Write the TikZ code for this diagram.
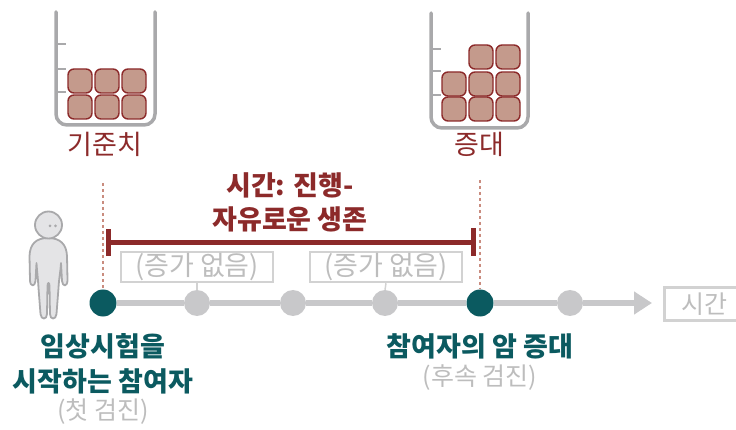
\documentclass[tikz,border=0pt]{standalone}
\usepackage{fontspec}
\setmainfont{Noto Sans CJK KR}
\usetikzlibrary{arrows.meta}
\definecolor{darkred}{HTML}{8C2A2A}
\definecolor{cellfill}{HTML}{C49A8C}
\definecolor{teal}{HTML}{0B5A60}
\definecolor{lightgray}{HTML}{C8C8CA}
\definecolor{boxgray}{HTML}{D2D2D2}
\definecolor{textgray}{HTML}{BDBDBD}
\definecolor{beakergray}{HTML}{A9A9AB}
\definecolor{dotline}{HTML}{C98C7F}
\definecolor{skin}{HTML}{E4E4E6}
\tikzset{
  beaker/.style={draw=beakergray, line width=3.5pt, line cap=round, rounded corners=11pt},
  tick/.style={draw=beakergray, line width=2.5pt},
  cell/.style={draw=darkred, fill=cellfill, line width=1.4pt, rounded corners=6pt},
  beakerlabel/.style={text=darkred, font=\fontsize{27}{29}\selectfont},
  guide/.style={draw=dotline, line width=1.6pt, dash pattern=on 3pt off 3pt},
  span/.style={draw=darkred, line width=5pt},
  track/.style={draw=lightgray, line width=5pt},
  event/.style={circle, fill=teal, minimum size=27pt, inner sep=0pt},
  visit/.style={circle, fill=lightgray, minimum size=26pt, inner sep=0pt},
  nochange/.style={draw=boxgray, line width=2.5pt, text=textgray, minimum width=152pt,
    minimum height=30pt, inner sep=0pt, font=\fontsize{27}{29}\selectfont},
  headline/.style={text=darkred, font=\bfseries\fontsize{27}{29}\selectfont},
  eventlabel/.style={text=teal, font=\bfseries\fontsize{27}{29}\selectfont, align=center},
  note/.style={text=textgray, font=\fontsize{25}{27}\selectfont},
  person/.style={draw=beakergray, fill=skin, line width=1.8pt, line join=round},
}
\newcommand{\cellat}[2]{\path[cell] (#1,#2) rectangle ++(24,24);}
\begin{document}
\begin{tikzpicture}[x=1pt,y=-1pt]
\useasboundingbox (0,0) rectangle (736,430);

% --- baseline beaker ---
\draw[beaker] (56,12) -- (56,125) -- (155,125) -- (155,12);
\foreach \yy in {44,69,92} \draw[tick] (56,\yy) -- (66,\yy);
\foreach \xx in {68,95,122} {\cellat{\xx}{69} \cellat{\xx}{95}}
\node[beakerlabel] (base) at (105,144) {기준치};

% --- grown beaker ---
\draw[beaker] (431,13) -- (431,128) -- (528,128) -- (528,13);
\foreach \yy in {49,71,95} \draw[tick] (431,\yy) -- (441,\yy);
\foreach \xx in {442,469,496} {\cellat{\xx}{72} \cellat{\xx}{97}}
\foreach \xx in {469,496} {\cellat{\xx}{45}}
\node[beakerlabel] (grow) at (479,144) {증대};

% --- timeline ---
\node[event] (t0) at (103,303) {};
\node[visit] (t1) at (197,303) {};
\node[visit] (t2) at (293,303) {};
\node[visit] (t3) at (385,303) {};
\node[event] (t4) at (480,303) {};
\node[visit] (t5) at (570,303) {};
\coordinate (tend) at (652,303);
\draw[track] (t0) -- (t1);
\draw[track] (t1) -- (t2);
\draw[track] (t2) -- (t3);
\draw[track] (t3) -- (t4);
\draw[track] (t4) -- (t5);
\draw[track, -{Triangle[length=18pt,width=22pt]}] (t5) -- (tend);
\node[draw=boxgray, line width=2.5pt, text=textgray, font=\fontsize{25}{27}\selectfont,
  minimum width=80pt, minimum height=33pt, inner sep=0pt, anchor=west] (timebox) at (663,304) {시간};

% --- no-change boxes ---
\node[nochange] (nc1) at (197,267) {(증가 없음)};
\node[nochange] (nc2) at (386,267) {(증가 없음)};
\draw[draw=boxgray, line width=1.5pt] (nc1.south) -- (t1.north);
\draw[draw=boxgray, line width=1.5pt] (nc2.south) -- (t3.north);

% --- guides ---
\coordinate (g0) at (103,183);
\coordinate (g4) at (480,180);
\draw[guide] (g0) -- (t0.north);
\draw[guide] (g4) -- (t4.north);

% --- progression-free span ---
\coordinate (s0) at (108,243);
\coordinate (s1) at (473,243);
\draw[span] (s0) -- (s1);
\draw[span] ([yshift=-13pt]s0) -- ([yshift=14pt]s0);
\draw[span] ([yshift=-13pt]s1) -- ([yshift=15pt]s1);
\node[headline] (h1) at (290,185) {시간: 진행-};
\node[headline] (h2) at (290,219) {자유로운 생존};

% --- event labels ---
\node[eventlabel] (l0a) at (103,346) {임상시험을};
\node[eventlabel] (l0b) at (103,381) {시작하는 참여자};
\node[note] (l0c) at (103,412) {(첫 검진)};
\node[eventlabel] (l4a) at (480,346) {참여자의 암 증대};
\node[note] (l4b) at (480,378) {(후속 검진)};

% --- participant figure ---
\draw[person] (48,238) .. controls (36,238) and (30,244) .. (29.5,256)
  -- (30,280) .. controls (30,287) and (35,287) .. (35.5,281)
  -- (36.5,263) .. controls (37,272) and (38,278) .. (38.5,288)
  -- (40.5,314) .. controls (41,320) and (47,320) .. (47,314)
  -- (47.5,286) .. controls (47.5,282) and (49.5,282) .. (49.5,286)
  -- (50,314) .. controls (50,320) and (56,320) .. (56.5,314)
  -- (58.5,288) .. controls (59,278) and (60.5,272) .. (61,263)
  -- (62,281) .. controls (62.5,287) and (67.5,287) .. (67.5,280)
  -- (67,256) .. controls (66.5,244) and (60,238) .. (48,238) -- cycle;
\draw[person] (48.5,225) circle (13.5pt);
\fill[beakergray] (50,226) circle (1.5pt) (55.5,226) circle (1.5pt);
\end{tikzpicture}
\end{document}
